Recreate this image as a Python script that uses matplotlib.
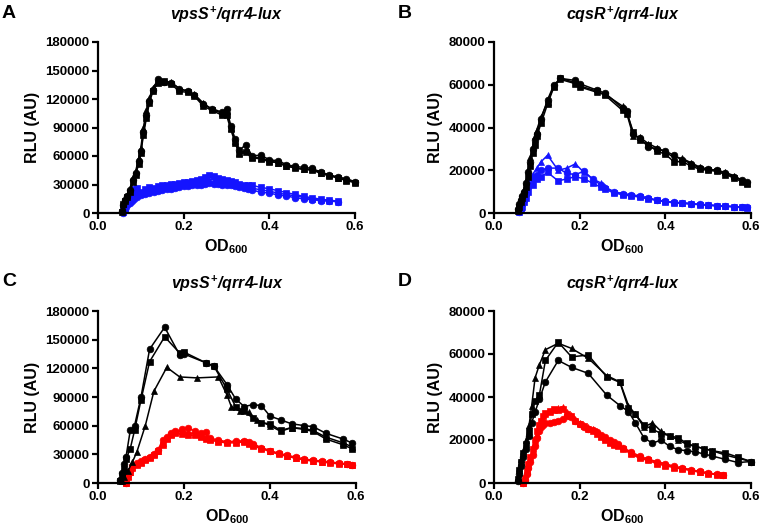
import matplotlib
matplotlib.use("Agg")
import matplotlib.pyplot as plt

plt.rcParams['font.family'] = ['Liberation Sans', 'DejaVu Sans']
plt.rcParams['font.weight'] = 'bold'
plt.rcParams['mathtext.fontset'] = 'custom'
plt.rcParams['mathtext.rm'] = 'Liberation Sans:bold'
plt.rcParams['mathtext.bf'] = 'Liberation Sans:bold'
plt.rcParams['mathtext.it'] = 'Liberation Sans:italic:bold'

BLUE = '#1414ff'
RED = '#ff0000'

# ---- Panel A: vpsS+/qrr4-lux (black vs blue) ----
a_blk_x = [0.055, 0.058, 0.062, 0.068, 0.075, 0.082, 0.088, 0.095, 0.100, 0.106,
           0.113, 0.120, 0.128, 0.140, 0.155, 0.170, 0.190, 0.210, 0.225, 0.245,
           0.265, 0.290, 0.300, 0.310, 0.320, 0.330, 0.345, 0.360, 0.380, 0.400,
           0.420, 0.440, 0.460, 0.480, 0.500, 0.520, 0.540, 0.560, 0.580, 0.600]
a_blk_circ = [2000, 8000, 14000, 18000, 24000, 35000, 42000, 55000, 65000, 85000,
              103000, 118000, 130000, 141000, 138000, 137000, 131000, 128000, 124000, 115000,
              110000, 106000, 110000, 92000, 78000, 66000, 72000, 60000, 61000, 56000,
              55000, 51000, 49000, 48000, 47000, 43000, 40000, 38000, 36000, 33000]
a_blk_sq = [1000, 10000, 13000, 17000, 22000, 33000, 40000, 52000, 63000, 82000,
            100000, 116000, 128000, 137000, 139000, 136000, 128000, 127000, 123000, 113000,
            108000, 103000, 103000, 88000, 74000, 62000, 64000, 58000, 57000, 54000,
            53000, 50000, 47000, 46000, 45000, 42000, 39000, 37000, 34000, 32000]
a_blk_tri = [3000, 9000, 15000, 19000, 26000, 38000, 44000, 58000, 68000, 90000,
             108000, 121000, 132000, 139000, 138000, 138000, 131000, 128000, 125000, 116000,
             109000, 105000, 107000, 90000, 76000, 63000, 66000, 59000, 58000, 55000,
             53000, 49000, 48000, 46000, 46000, 42000, 40000, 37000, 35000, 33000]

a_col_x = [0.058, 0.062, 0.066, 0.070, 0.075, 0.080, 0.085, 0.090, 0.100, 0.110,
           0.120, 0.130, 0.140, 0.150, 0.160, 0.170, 0.180, 0.190, 0.200, 0.210,
           0.220, 0.230, 0.240, 0.250, 0.260, 0.270, 0.280, 0.290, 0.300, 0.310,
           0.320, 0.330, 0.340, 0.350, 0.360, 0.380, 0.400, 0.420, 0.440, 0.460,
           0.480, 0.500, 0.520, 0.540, 0.560]
a_col_circ = [0, 3000, 6000, 9000, 11000, 13000, 15000, 17000, 19000, 20000,
              21000, 22000, 23000, 24000, 25000, 25000, 26000, 27000, 28000, 28000,
              29000, 30000, 30000, 31000, 32000, 31000, 31000, 30000, 30000, 29000,
              28000, 27000, 26000, 25000, 24000, 22000, 21000, 19000, 18000, 16000,
              15000, 14000, 13000, 12500, 12000]
a_col_sq = [2000, 8000, 13000, 17000, 20000, 23000, 25000, 26000, 22000, 25000,
            27000, 26000, 28000, 29000, 30000, 31000, 31000, 32000, 33000, 33000,
            34000, 35000, 36000, 38000, 40000, 39000, 37000, 36000, 35000, 34000,
            33000, 31000, 30000, 29000, 29000, 27000, 25500, 23500, 21500, 19500,
            17500, 16000, 14500, 13500, 12500]
a_col_tri = [1000, 5000, 9000, 13000, 16000, 19000, 21000, 22000, 21000, 23000,
             24000, 24000, 25000, 26000, 27000, 28000, 29000, 30000, 31000, 31000,
             32000, 32000, 33000, 34000, 35000, 35000, 34000, 33000, 32000, 31000,
             30000, 29000, 28000, 27000, 26000, 24500, 23000, 21000, 19500, 18000,
             16500, 15000, 14000, 13000, 12000]

# ---- Panel B: cqsR+/qrr4-lux (black vs blue) ----
b_blk_x = [0.055, 0.058, 0.062, 0.066, 0.070, 0.075, 0.080, 0.085, 0.090, 0.095,
           0.100, 0.110, 0.125, 0.140, 0.155, 0.190, 0.200, 0.240, 0.260, 0.300,
           0.310, 0.325, 0.340, 0.360, 0.380, 0.400, 0.420, 0.440, 0.460, 0.480,
           0.500, 0.520, 0.540, 0.560, 0.580, 0.590]
b_blk_circ = [2000, 4000, 6000, 8000, 10000, 14000, 19000, 24000, 30000, 34000,
              37000, 44000, 53000, 60000, 63000, 62000, 60500, 57500, 56000, 49000,
              47500, 37000, 35000, 31000, 30000, 29000, 27000, 25000, 23000, 21000,
              20500, 20000, 18500, 17000, 15500, 14500]
b_blk_sq = [1000, 3000, 5000, 7000, 9000, 12000, 17000, 22000, 28000, 32000,
            36000, 42000, 51000, 59000, 63000, 61000, 59500, 57000, 55000, 48000,
            47000, 38000, 34000, 32000, 29000, 27500, 24000, 24000, 22000, 20500,
            20000, 19500, 18000, 16500, 14500, 13500]
b_blk_tri = [3000, 5000, 7000, 9000, 11000, 15000, 20000, 26000, 31000, 36000,
             39000, 45000, 52000, 59500, 62500, 60500, 59000, 56500, 55500, 50000,
             46500, 36000, 35500, 32500, 30500, 28500, 26000, 25500, 23500, 21500,
             20500, 20000, 19000, 17500, 15000, 14000]

b_col_x = [0.058, 0.062, 0.066, 0.070, 0.075, 0.080, 0.090, 0.100, 0.110, 0.125,
           0.150, 0.170, 0.190, 0.210, 0.230, 0.250, 0.260, 0.280, 0.300, 0.320,
           0.340, 0.360, 0.380, 0.400, 0.420, 0.440, 0.460, 0.480, 0.500, 0.520,
           0.540, 0.560, 0.580, 0.590]
b_col_circ = [500, 2000, 4000, 6000, 9000, 12000, 16000, 18000, 20000, 21000,
              21000, 18500, 18000, 19500, 16000, 13000, 11500, 10000, 9000, 8500,
              7800, 7000, 6000, 5500, 5000, 4600, 4300, 4000, 3800, 3400,
              3200, 3000, 2800, 2600]
b_col_sq = [300, 1500, 3000, 5000, 7000, 10000, 13000, 16000, 17000, 19000,
            15000, 16000, 17000, 16000, 14000, 12000, 11000, 9500, 8500, 8000,
            7500, 6500, 6000, 5200, 4800, 4500, 4200, 3900, 3600, 3300,
            3100, 2900, 2700, 2500]
b_col_tri = [1000, 3000, 5000, 8000, 11000, 14000, 18000, 21000, 24000, 27000,
             20000, 21000, 23000, 19000, 16000, 14000, 12000, 10000, 9000, 8500,
             8000, 7000, 6000, 5500, 5000, 4800, 4500, 4000, 3800, 3500,
             3300, 3000, 2800, 2700]

# ---- Panel C: vpsS+/qrr4-lux (black vs red) ----
c_blk_x = [0.050, 0.055, 0.060, 0.065, 0.075, 0.085, 0.100, 0.120, 0.155, 0.190,
           0.200, 0.250, 0.270, 0.300, 0.320, 0.340, 0.360, 0.380, 0.400, 0.425,
           0.450, 0.480, 0.500, 0.530, 0.570, 0.590]
c_blk_circ = [3000, 10000, 20000, 27000, 55000, 60000, 90000, 140000, 163000, 134000,
              135000, 126000, 122000, 103000, 88000, 80000, 82000, 81000, 70000, 66000,
              62000, 60000, 59000, 52000, 46000, 42000]
c_blk_sq = [2000, 8000, 15000, 25000, 36000, 55000, 87000, 127000, 153000, 136000,
            137000, 126000, 122000, 98000, 80000, 75000, 68000, 63000, 62000, 55000,
            58000, 56000, 54000, 46000, 40000, 36000]
c_tri_x = [0.055, 0.060, 0.070, 0.080, 0.090, 0.110, 0.130, 0.160, 0.190, 0.230,
           0.280, 0.300, 0.310, 0.330, 0.350, 0.370, 0.400, 0.425, 0.450, 0.480,
           0.500, 0.530, 0.570, 0.590]
c_blk_tri = [2000, 6000, 13000, 22000, 32000, 60000, 96000, 121000, 111000, 110000,
             111000, 92000, 80000, 75000, 74000, 66000, 60000, 54000, 58000, 57000,
             55000, 48000, 42000, 38000]

c_col_x = [0.065, 0.070, 0.075, 0.080, 0.090, 0.100, 0.110, 0.120, 0.130, 0.140,
           0.150, 0.160, 0.170, 0.180, 0.195, 0.210, 0.225, 0.240, 0.250, 0.260,
           0.280, 0.300, 0.320, 0.340, 0.350, 0.360, 0.380, 0.400, 0.420, 0.440,
           0.460, 0.480, 0.500, 0.520, 0.540, 0.560, 0.580, 0.590]
c_col_circ = [0, 8000, 13000, 18000, 21000, 23000, 25000, 27000, 30000, 35000,
              45000, 48000, 52000, 54000, 56000, 58000, 54000, 52000, 53000, 47000,
              45000, 43000, 44000, 44000, 43000, 41000, 37000, 34000, 31000, 29000,
              27000, 25000, 24000, 23000, 22000, 21000, 20000, 19000]
c_col_sq = [0, 6000, 11000, 16000, 19000, 21000, 24000, 26000, 29000, 33000,
            40000, 46000, 50000, 52000, 51000, 50000, 50000, 48000, 46000, 45000,
            43000, 42000, 42000, 43000, 41000, 39000, 36000, 33000, 30000, 28000,
            26000, 24000, 23000, 22000, 21000, 20000, 19500, 18500]
c_col_tri = [0, 7000, 12000, 17000, 20000, 22000, 25000, 27000, 30000, 34000,
             42000, 47000, 51000, 53000, 54000, 53000, 51000, 49000, 48000, 46000,
             44000, 43000, 43000, 44000, 42000, 40000, 37000, 33000, 31000, 28000,
             26000, 25000, 23500, 22500, 21500, 20500, 19500, 19000]

# ---- Panel D: cqsR+/qrr4-lux (black vs red) ----
d_blk_x = [0.055, 0.058, 0.062, 0.068, 0.075, 0.082, 0.088, 0.096, 0.106, 0.120,
           0.150, 0.181, 0.220, 0.263, 0.294, 0.314, 0.330, 0.350, 0.370, 0.390,
           0.410, 0.430, 0.450, 0.470, 0.490, 0.510, 0.540, 0.570, 0.600]
d_blk_sq = [2000, 6000, 10000, 14000, 18000, 24000, 32000, 38000, 41000, 57000,
            65500, 58700, 59500, 49400, 46800, 34700, 32000, 27000, 25000, 23000,
            22000, 21000, 18500, 17000, 16000, 15000, 14000, 12000, 10000]
d_blk_tri = [3000, 7000, 11000, 15000, 20000, 27000, 36000, 49000, 55000, 62000,
             65000, 62600, 58000, 50000, 47000, 36000, 32000, 26000, 28000, 24000,
             22000, 20000, 18000, 17000, 16000, 15000, 13000, 11500, 10000]
d_blk_circ = [1000, 4000, 8000, 12000, 16000, 22000, 28000, 33000, 39000, 47000,
              57000, 53800, 51000, 40900, 36000, 33200, 28000, 21000, 18500, 20000,
              17000, 15500, 15000, 14500, 13500, 12500, 11000, 9500, 10000]

d_col_x = [0.068, 0.072, 0.076, 0.080, 0.085, 0.090, 0.095, 0.100, 0.105, 0.110,
           0.115, 0.120, 0.130, 0.140, 0.150, 0.160, 0.170, 0.180, 0.190, 0.200,
           0.210, 0.220, 0.230, 0.240, 0.250, 0.260, 0.270, 0.280, 0.290, 0.300,
           0.320, 0.340, 0.360, 0.380, 0.400, 0.420, 0.440, 0.460, 0.480, 0.500,
           0.520, 0.535]
d_col_tri = [0, 2000, 5000, 8000, 11000, 15000, 19000, 23000, 26000, 28000,
             30000, 32000, 33000, 34000, 35000, 35500, 33000, 31500, 30000, 28000,
             27000, 26000, 25000, 24000, 22000, 21000, 19000, 18000, 17500, 16500,
             14000, 12000, 11000, 9500, 8500, 7500, 6800, 6000, 5200, 4600,
             4000, 3600]
d_col_sq = [0, 2500, 5500, 9000, 12000, 16000, 20000, 24000, 27000, 29000,
            31000, 32500, 33500, 34500, 34000, 34500, 32000, 31000, 29000, 27500,
            26500, 25000, 24000, 23000, 21500, 20000, 18500, 17500, 17000, 16000,
            13500, 11500, 10500, 9000, 8000, 7200, 6500, 5800, 5000, 4400,
            3900, 3500]
d_col_circ = [0, 1500, 4000, 7000, 10000, 13000, 17000, 21000, 24000, 26000,
              27000, 28000, 28000, 28500, 29000, 30000, 31000, 30500, 29000, 27500,
              26000, 25000, 24500, 23500, 22500, 21500, 20000, 19000, 18000, 16500,
              14500, 12500, 11000, 10000, 9000, 7800, 7000, 6200, 5400, 4700,
              4100, 3700]

panels = [
    dict(letter='A', title=r'$\mathit{vpsS}^{+}$/qrr4-lux', ymax=180000, ystep=30000,
         rect=[98/760, 1-213/527, 257/760, 171/527], color=BLUE,
         blk=[(a_blk_x, a_blk_circ, 'o'), (a_blk_x, a_blk_sq, 's'), (a_blk_x, a_blk_tri, '^')],
         col=[(a_col_x, a_col_circ, 'o'), (a_col_x, a_col_sq, 's'), (a_col_x, a_col_tri, '^')]),
    dict(letter='B', title=r'$\mathit{cqsR}^{+}$/qrr4-lux', ymax=80000, ystep=20000,
         rect=[494/760, 1-213/527, 257/760, 171/527], color=BLUE,
         blk=[(b_blk_x, b_blk_circ, 'o'), (b_blk_x, b_blk_sq, 's'), (b_blk_x, b_blk_tri, '^')],
         col=[(b_col_x, b_col_circ, 'o'), (b_col_x, b_col_sq, 's'), (b_col_x, b_col_tri, '^')]),
    dict(letter='C', title=r'$\mathit{vpsS}^{+}$/qrr4-lux', ymax=180000, ystep=30000,
         rect=[98/760, 1-483/527, 258/760, 172/527], color=RED,
         blk=[(c_blk_x, c_blk_circ, 'o'), (c_blk_x, c_blk_sq, 's'), (c_tri_x, c_blk_tri, '^')],
         col=[(c_col_x, c_col_circ, 'o'), (c_col_x, c_col_sq, 's'), (c_col_x, c_col_tri, '^')]),
    dict(letter='D', title=r'$\mathit{cqsR}^{+}$/qrr4-lux', ymax=80000, ystep=20000,
         rect=[494/760, 1-483/527, 257/760, 172/527], color=RED,
         blk=[(d_blk_x, d_blk_circ, 'o'), (d_blk_x, d_blk_sq, 's'), (d_blk_x, d_blk_tri, '^')],
         col=[(d_col_x, d_col_circ, 'o'), (d_col_x, d_col_sq, 's'), (d_col_x, d_col_tri, '^')]),
]

fig = plt.figure(figsize=(7.6, 5.27), dpi=100)

for p in panels:
    ax = fig.add_axes(p['rect'])
    for x, y, m in p['col']:
        ax.plot(x, y, color=p['color'], marker=m, markersize=4.8, linewidth=1.1,
                markeredgewidth=0.5, clip_on=False)
    for x, y, m in p['blk']:
        ax.plot(x, y, color='black', marker=m, markersize=4.8, linewidth=1.1,
                markeredgewidth=0.5, clip_on=False)

    ax.set_xlim(0, 0.6)
    ax.set_ylim(0, p['ymax'])
    ax.set_xticks([0.0, 0.2, 0.4, 0.6])
    ax.set_xticklabels(['0.0', '0.2', '0.4', '0.6'])
    ax.set_yticks(range(0, p['ymax'] + 1, p['ystep']))
    ax.set_yticklabels([str(v) for v in range(0, p['ymax'] + 1, p['ystep'])])
    ax.spines['top'].set_visible(False)
    ax.spines['right'].set_visible(False)
    ax.spines['left'].set_linewidth(1.6)
    ax.spines['bottom'].set_linewidth(1.6)
    ax.tick_params(direction='out', length=4, width=1.6, labelsize=9.5, pad=2)
    for lbl in ax.get_xticklabels() + ax.get_yticklabels():
        lbl.set_fontweight('bold')
    ax.set_ylabel('RLU (AU)', fontsize=11.5, fontweight='bold', labelpad=4)
    ax.set_xlabel('OD$_{600}$', fontsize=11.5, fontweight='bold', labelpad=3)

    l, b, w, h = p['rect']
    fig.text(l + w / 2, b + h + 27/527, p['title'], ha='center', va='center',
             fontsize=11.5, fontweight='bold', fontstyle='italic')
    fig.text(l - 96/760, b + h + 29/527, p['letter'], ha='left', va='center',
             fontsize=14, fontweight='bold')

fig.savefig('out.png', dpi=100)
